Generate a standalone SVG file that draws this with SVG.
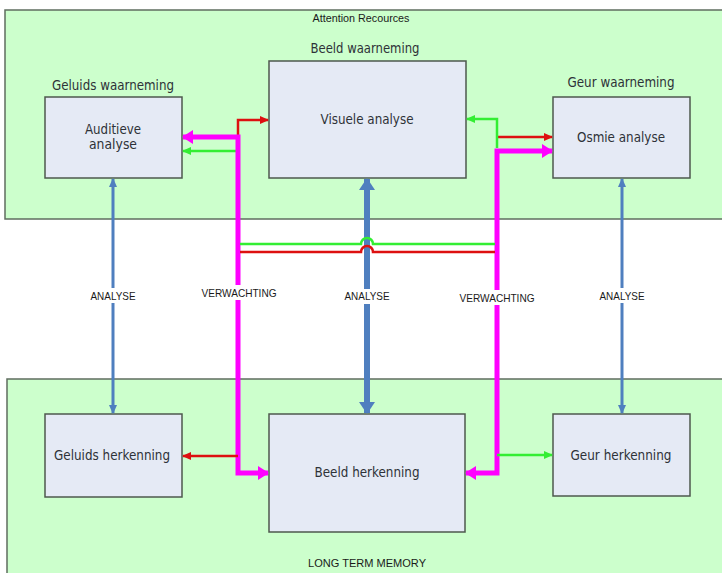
<svg xmlns="http://www.w3.org/2000/svg" width="722" height="573" viewBox="0 0 722 573">
<style>
.zone{fill:#ccffcc;stroke:#5f6e5f;stroke-width:1.5}
.box{fill:#e5eaf5;stroke:#4d584d;stroke-width:1.5}
.t{font-family:"DejaVu Sans","Liberation Sans",sans-serif;font-size:13.5px;fill:#2e3238;text-anchor:middle}
.s{font-family:"Liberation Sans",Arial,sans-serif;font-size:11px;fill:#1a1a1a;text-anchor:middle}
.bl{fill:none;stroke:#4f7fbf}
.mg{fill:none;stroke:#ff00ff;stroke-width:5}
.rd{fill:none;stroke:#dd1010;stroke-width:2.5}
.gr{fill:none;stroke:#33ee33;stroke-width:2.5}
</style>
<defs>
<marker id="aBlue" markerUnits="userSpaceOnUse" markerWidth="10" markerHeight="10" refX="8" refY="5" orient="auto-start-reverse" viewBox="0 0 10 10"><path d="M0,1 L9,5 L0,9 Z" fill="#4f7fbf"/></marker>
<marker id="aBlueL" markerUnits="userSpaceOnUse" markerWidth="14" markerHeight="16" refX="11" refY="8" orient="auto-start-reverse" viewBox="0 0 14 16"><path d="M0,0 L12,8 L0,16 Z" fill="#4f7fbf"/></marker>
<marker id="aMag" markerUnits="userSpaceOnUse" markerWidth="12" markerHeight="14" refX="10" refY="7" orient="auto-start-reverse" viewBox="0 0 12 14"><path d="M0,0 L11,7 L0,14 Z" fill="#ff00ff"/></marker>
<marker id="aRed" markerUnits="userSpaceOnUse" markerWidth="10" markerHeight="10" refX="8" refY="5" orient="auto" viewBox="0 0 10 10"><path d="M0,1 L9,5 L0,9 Z" fill="#dd1010"/></marker>
<marker id="aGrn" markerUnits="userSpaceOnUse" markerWidth="10" markerHeight="10" refX="8" refY="5" orient="auto" viewBox="0 0 10 10"><path d="M0,1 L9,5 L0,9 Z" fill="#33ee33"/></marker>
</defs>

<g id="attention-resources">
<rect class="zone" x="5" y="10" width="730" height="209"/>
<text class="s" x="361" y="22" font-size="10" textLength="97" lengthAdjust="spacingAndGlyphs">Attention Recources</text>
</g>
<g id="long-term-memory">
<rect class="zone" x="7" y="379" width="730" height="210"/>
<text class="s" x="367" y="567" textLength="118" lengthAdjust="spacingAndGlyphs">LONG TERM MEMORY</text>
</g>

<g id="auditieve-analyse">
<text class="t" x="113" y="90" textLength="122" lengthAdjust="spacingAndGlyphs">Geluids waarneming</text>
<rect class="box" x="45" y="97" width="137" height="81"/>
<text class="t" x="113" y="134" textLength="56" lengthAdjust="spacingAndGlyphs">Auditieve</text>
<text class="t" x="113" y="149" textLength="48" lengthAdjust="spacingAndGlyphs">analyse</text>
</g>
<g id="visuele-analyse">
<text class="t" x="365" y="53" textLength="109" lengthAdjust="spacingAndGlyphs">Beeld waarneming</text>
<rect class="box" x="269" y="61" width="197" height="117"/>
<text class="t" x="367" y="124" textLength="93" lengthAdjust="spacingAndGlyphs">Visuele analyse</text>
</g>
<g id="osmie-analyse">
<text class="t" x="621" y="87" textLength="107" lengthAdjust="spacingAndGlyphs">Geur waarneming</text>
<rect class="box" x="553" y="97" width="137" height="81"/>
<text class="t" x="621" y="142" textLength="88" lengthAdjust="spacingAndGlyphs">Osmie analyse</text>
</g>
<g id="geluids-herkenning">
<rect class="box" x="45" y="414" width="137" height="83"/>
<text class="t" x="112" y="460" textLength="116" lengthAdjust="spacingAndGlyphs">Geluids herkenning</text>
</g>
<g id="beeld-herkenning">
<rect class="box" x="269" y="414" width="196" height="118"/>
<text class="t" x="367" y="477" textLength="105" lengthAdjust="spacingAndGlyphs">Beeld herkenning</text>
</g>
<g id="geur-herkenning">
<rect class="box" x="553" y="414" width="137" height="82"/>
<text class="t" x="621" y="460" textLength="101" lengthAdjust="spacingAndGlyphs">Geur herkenning</text>
</g>

<g id="connectors">
<path class="bl" stroke-width="3" d="M113,179 L113,413" marker-start="url(#aBlue)" marker-end="url(#aBlue)"/>
<path class="bl" stroke-width="6" d="M367,179 L367,413" marker-start="url(#aBlueL)" marker-end="url(#aBlueL)"/>
<path class="bl" stroke-width="3" d="M622,179 L622,413" marker-start="url(#aBlue)" marker-end="url(#aBlue)"/>

<path class="rd" d="M238,137 L238,120 L268,120" marker-end="url(#aRed)"/>
<path class="gr" d="M238,151 L183,151" marker-end="url(#aGrn)"/>
<path class="mg" d="M183,137 L238,137 L238,473 L268,473" marker-start="url(#aMag)" marker-end="url(#aMag)"/>

<path class="rd" d="M497,137 L552,137" marker-end="url(#aRed)"/>
<path class="gr" d="M497,148 L497,119 L467,119" marker-end="url(#aGrn)"/>
<path class="mg" d="M552,151 L497,151 L497,473 L466,473" marker-start="url(#aMag)" marker-end="url(#aMag)"/>

<path class="rd" d="M238,456 L183,456" marker-end="url(#aRed)"/>
<path class="gr" d="M497,455 L552,455" marker-end="url(#aGrn)"/>

<path class="gr" d="M240,244 L361,244 A6,6 0 0 1 373,244 L495,244"/>
<path class="rd" d="M240,252 L361,252 A6,6 0 0 1 373,252 L495,252"/>

<g id="labels">
<rect x="88" y="288" width="50" height="15" fill="#ffffff"/>
<text class="s" x="113" y="300" textLength="45" lengthAdjust="spacingAndGlyphs">ANALYSE</text>
<rect x="199" y="285" width="80" height="15" fill="#ffffff"/>
<text class="s" x="239" y="297" textLength="75" lengthAdjust="spacingAndGlyphs">VERWACHTING</text>
<rect x="342" y="289" width="50" height="15" fill="#ffffff"/>
<text class="s" x="367" y="300" textLength="45" lengthAdjust="spacingAndGlyphs">ANALYSE</text>
<rect x="458" y="290" width="80" height="15" fill="#ffffff"/>
<text class="s" x="497" y="302" textLength="75" lengthAdjust="spacingAndGlyphs">VERWACHTING</text>
<rect x="597" y="288" width="50" height="15" fill="#ffffff"/>
<text class="s" x="622" y="300" textLength="45" lengthAdjust="spacingAndGlyphs">ANALYSE</text>
</g>
</g>
</svg>
